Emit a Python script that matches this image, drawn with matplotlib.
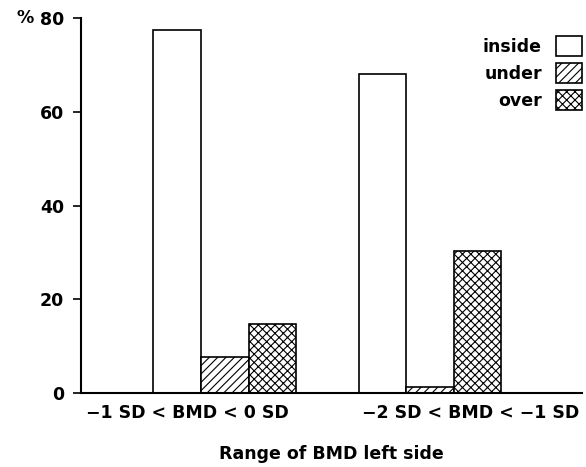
"""Grouped bar chart of BMD range categories (inside / under / over)."""

import matplotlib
matplotlib.use('agg')
from matplotlib import pyplot
import numpy

FIGURE_RESOLUTION_DPI = 100
OUTPUT_FILE_NAME = 'out.png'

CATEGORY_LABELS = ['\u22121 SD < BMD < 0 SD', '\u22122 SD < BMD < \u22121 SD']
SERIES_NAMES = ['inside', 'under', 'over']
INSIDE_VALUES = [77.4, 68.1]
UNDER_VALUES = [7.7, 1.3]
OVER_VALUES = [14.7, 30.3]
Y_TICK_VALUES = [0, 20, 40, 60, 80]

HATCHES = ['', '////', 'xxxx']
BAR_WIDTH = 0.232
LABEL_OFFSETS = [-0.185, 0.2]
FONT_SIZE = 12.5

pyplot.rcParams['font.family'] = ['DejaVu Sans']
pyplot.rcParams['font.weight'] = 'bold'
pyplot.rcParams['hatch.linewidth'] = 0.8


def _run():
    figure_object = pyplot.figure(figsize=(5.86, 4.67), dpi=FIGURE_RESOLUTION_DPI)
    axes_object = figure_object.add_axes([0.138, 0.158, 0.855, 0.803])

    group_x = numpy.arange(len(CATEGORY_LABELS), dtype=float)
    all_values = [INSIDE_VALUES, UNDER_VALUES, OVER_VALUES]

    for k in range(len(SERIES_NAMES)):
        axes_object.bar(
            group_x + (k - 1) * BAR_WIDTH, all_values[k], width=BAR_WIDTH,
            facecolor='white', edgecolor='black', linewidth=1.2,
            hatch=HATCHES[k], label=SERIES_NAMES[k]
        )

    axes_object.set_xlim(-0.702, 1.741)
    axes_object.set_ylim(0, 80)
    axes_object.set_yticks(Y_TICK_VALUES)
    axes_object.set_yticklabels([str(v) for v in Y_TICK_VALUES], fontsize=FONT_SIZE)
    axes_object.tick_params(axis='y', direction='out', length=6, width=1.2, pad=6)

    axes_object.set_xticks(group_x + numpy.array(LABEL_OFFSETS))
    axes_object.set_xticklabels(CATEGORY_LABELS, fontsize=FONT_SIZE)
    axes_object.tick_params(axis='x', length=0, pad=8)

    for side in ['top', 'right']:
        axes_object.spines[side].set_visible(False)
    for side in ['left', 'bottom']:
        axes_object.spines[side].set_linewidth(1.5)

    axes_object.set_xlabel(
        'Range of BMD left side', fontsize=FONT_SIZE, fontweight='bold',
        labelpad=16
    )
    figure_object.text(
        0.028, 0.961, '%', fontsize=FONT_SIZE, fontweight='bold',
        va='center', ha='left'
    )

    axes_object.legend(
        loc='upper right', bbox_to_anchor=(1.0, 0.952), frameon=False,
        markerfirst=False, fontsize=FONT_SIZE, handlelength=1.5,
        handleheight=1.4, handletextpad=0.8, labelspacing=0.4,
        borderaxespad=0.0, borderpad=0.0
    )

    figure_object.savefig(OUTPUT_FILE_NAME, dpi=FIGURE_RESOLUTION_DPI)
    pyplot.close(figure_object)


if __name__ == '__main__':
    _run()
